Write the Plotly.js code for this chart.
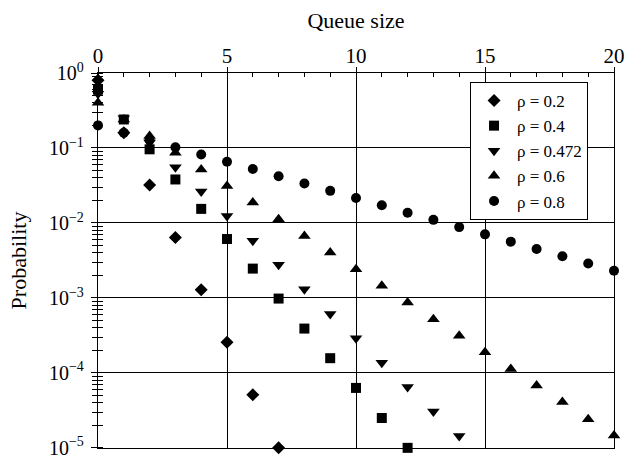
<!DOCTYPE html>
<html>
<head>
<meta charset="utf-8">
<script src="https://cdn.plot.ly/plotly-3.0.1.min.js"></script>
<style>html,body{margin:0;padding:0;background:#fff;}#chart{width:626px;height:457px;}</style>
</head>
<body>
<div id="chart"></div>
<script>
// Queue size values for each series
const q02 = [0,1,2,3,4,5,6,7];
const p02 = [0.8, 0.16, 0.032, 0.0064, 0.00128, 0.000256, 5.1e-5, 1.0e-5];

const q04 = [0,1,2,3,4,5,6,7,8,9,10,11,12];
const p04 = [0.6, 0.24, 0.096, 0.038, 0.0154, 0.0061, 0.00246, 0.00098, 0.00039, 0.000157, 6.3e-5, 2.5e-5, 1.0e-5];

const q0472 = [0,1,2,3,4,5,6,7,8,9,10,11,12,13,14];
const p0472 = [0.528, 0.249, 0.118, 0.0555, 0.0262, 0.0124, 0.0058, 0.00276, 0.0013, 0.00061, 0.00029, 0.000137, 6.5e-5, 3.05e-5, 1.44e-5];

const q06 = [0,1,2,3,4,5,6,7,8,9,10,11,12,13,14,15,16,17,18,19,20];
const p06 = [0.4, 0.24, 0.144, 0.0864, 0.0518, 0.0311, 0.0187, 0.0112, 0.00672, 0.00403, 0.00242, 0.00145, 0.00087, 0.00052, 0.000313, 0.000188, 0.000113, 6.8e-5, 4.1e-5, 2.4e-5, 1.46e-5];

const q08 = [0,1,2,3,4,5,6,7,8,9,10,11,12,13,14,15,16,17,18,19,20];
const p08 = [0.2, 0.16, 0.128, 0.1024, 0.0819, 0.0655, 0.0524, 0.0419, 0.0336, 0.0268, 0.0215, 0.0172, 0.0137, 0.011, 0.0088, 0.00704, 0.00563, 0.0045, 0.0036, 0.00288, 0.0023];

const seriesNames = ['ρ = 0.2', 'ρ = 0.4', 'ρ = 0.472', 'ρ = 0.6', 'ρ = 0.8'];

const xTickVals = [0, 5, 10, 15, 20];
const yTickVals = [1, 0.1, 0.01, 0.001, 0.0001, 0.00001];
const yTickText = ['10<sup>0</sup>', '10<sup>−1</sup>', '10<sup>−2</sup>', '10<sup>−3</sup>', '10<sup>−4</sup>', '10<sup>−5</sup>'];

const FONT = 'Liberation Serif';

function tr(x, y, name, symbol, size, rank) {
  return {
    x: x, y: y, name: name, type: 'scatter', mode: 'markers',
    cliponaxis: false, legendrank: rank,
    marker: {symbol: symbol, size: size, color: 'black', line: {width: 0}}
  };
}

// drawing order: diamond, triangle-down, triangle-up, square, circle
const data = [
  tr(q02, p02, seriesNames[0], 'diamond', 10, 1),
  tr(q0472, p0472, seriesNames[2], 'triangle-down', 11, 3),
  tr(q06, p06, seriesNames[3], 'triangle-up', 11, 4),
  tr(q04, p04, seriesNames[1], 'square', 10, 2),
  tr(q08, p08, seriesNames[4], 'circle', 10, 5),
  {x: [], y: [], xaxis: 'x2', yaxis: 'y2', type: 'scatter', mode: 'markers', showlegend: false, hoverinfo: 'skip'}
];

const layout = {
  width: 626, height: 457,
  margin: {l: 98, r: 12, t: 73, b: 9, pad: 0},
  paper_bgcolor: 'white', plot_bgcolor: 'white',
  font: {family: FONT, color: 'black', size: 21},
  showlegend: true,
  legend: {
    x: 0.721, y: 0.976, xanchor: 'left', yanchor: 'top',
    bordercolor: 'black', borderwidth: 1, bgcolor: 'white',
    font: {family: FONT, size: 17, color: 'black'},
    itemwidth: 36,
    traceorder: 'normal'
  },
  xaxis: {
    side: 'top', range: [0, 20], tickmode: 'array', tickvals: xTickVals,
    ticks: '',
    minor: {dtick: 1, tick0: 0, ticks: 'inside', ticklen: 4, tickwidth: 1, tickcolor: 'black', showgrid: false},
    showgrid: true, gridcolor: 'black', gridwidth: 1,
    showline: true, linecolor: 'black', linewidth: 1.2, mirror: true,
    zeroline: false,
    tickfont: {family: FONT, size: 21, color: 'black'},
    title: {text: 'Queue size', font: {family: FONT, size: 22, color: 'black'}, standoff: 9}
  },
  xaxis2: {
    side: 'top', range: [0, 20], overlaying: 'x', tickmode: 'array', tickvals: xTickVals,
    ticks: 'outside', ticklen: 5, tickwidth: 1, tickcolor: 'black', showticklabels: false,
    showgrid: false, showline: false, zeroline: false
  },
  yaxis: {
    type: 'log', range: [-5.002, 0], tickmode: 'array', tickvals: yTickVals, ticktext: yTickText,
    ticks: 'outside', ticklen: 6, tickwidth: 1, tickcolor: 'black',
    ticklabelstandoff: 3, ticklabeloverflow: 'allow',
    minor: {dtick: 'D1', ticks: 'outside', ticklen: 5, tickwidth: 1, tickcolor: 'black', showgrid: false},
    showgrid: true, gridcolor: 'black', gridwidth: 1,
    showline: true, linecolor: 'black', linewidth: 1.2, mirror: true,
    zeroline: false,
    tickfont: {family: FONT, size: 20, color: 'black'},
    title: {text: 'Probability', font: {family: FONT, size: 22, color: 'black'}, standoff: 16}
  },
  yaxis2: {
    type: 'log', range: [-5.002, 0], overlaying: 'y', side: 'left',
    tickmode: 'array', tickvals: yTickVals, ticks: '', showticklabels: false,
    minor: {dtick: 'D1', ticks: 'inside', ticklen: 5, tickwidth: 1, tickcolor: 'black', showgrid: false},
    showgrid: false, showline: false, zeroline: false
  }
};

Plotly.newPlot('chart', data, layout, {staticPlot: true, displayModeBar: false});
</script>
</body>
</html>
